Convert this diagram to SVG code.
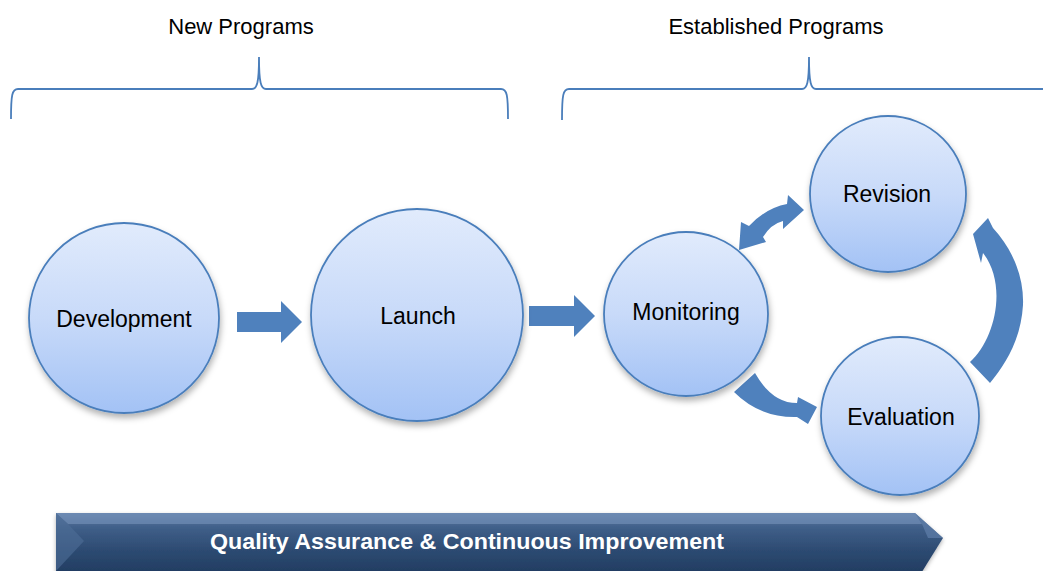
<svg xmlns="http://www.w3.org/2000/svg" width="1043" height="571" viewBox="0 0 1043 571">
  <defs>
    <linearGradient id="cg" x1="0" y1="0" x2="0" y2="1">
      <stop offset="0" stop-color="#e1ebfc"/>
      <stop offset="0.5" stop-color="#c8daf9"/>
      <stop offset="1" stop-color="#a3c2f5"/>
    </linearGradient>
    <linearGradient id="bg" x1="0" y1="0" x2="0" y2="1">
      <stop offset="0" stop-color="#5b7aa3"/>
      <stop offset="0.25" stop-color="#3f5e88"/>
      <stop offset="0.6" stop-color="#2d4b72"/>
      <stop offset="1" stop-color="#213b60"/>
    </linearGradient>
    <filter id="sh" x="-20%" y="-20%" width="140%" height="150%">
      <feDropShadow dx="1" dy="4" stdDeviation="3" flood-color="#000" flood-opacity="0.3"/>
    </filter>
    <filter id="bsh" x="-5%" y="-30%" width="110%" height="160%">
      <feDropShadow dx="0" dy="2" stdDeviation="2" flood-color="#000" flood-opacity="0.3"/>
    </filter>
  </defs>
  <style>
    .hdr { font-family: "Liberation Sans", Arial, sans-serif; font-size: 22px; fill: #000; text-anchor: middle; }
    .brace { fill: none; stroke: #4a7ebb; stroke-width: 1.8; }
    .node circle { fill: url(#cg); stroke: #4a7ebb; stroke-width: 1.8; filter: url(#sh); }
    .node text { font-family: "Liberation Sans", Arial, sans-serif; font-size: 23px; fill: #000; text-anchor: middle; }
    .arr { fill: #4f81bd; }
    .bar-text { font-family: "Liberation Sans", Arial, sans-serif; font-size: 22px; font-weight: bold; fill: #fff; text-anchor: middle; }
  </style>

  <text class="hdr" x="241" y="34">New Programs</text>
  <text class="hdr" x="776" y="34">Established Programs</text>

  <path class="brace" d="M11,119 C11,95 12,89 18,89 L252,89 C257,89 259,83 259,57 C259,83 261,89 266,89 L501,89 C507,89 508,95 508,119"/>
  <path class="brace" d="M562,120 C562,95 563,89 569,89 L802,89 C807,89 809,83 809,57 C809,83 811,89 816,89 L1043,89"/>

  <g id="connectors">
    <polygon class="arr" points="237,312 281,312 281,301 302,322 281,343 281,332 237,332"/>
    <polygon class="arr" points="529,306 574,306 574,295 595,316 574,337 574,326 529,326"/>
    <path class="arr" d="M739,250 L741,222 L749,226 Q766,208 787,204 L788,195 L804,210 L783,229 L783,221 Q771,224 763,237 L766,242 Z"/>
    <path class="arr" d="M734,392 Q760,418 797,417 L808,424 L817,407 L798,397 L797,403 Q772,403 755,373 Z"/>
    <path class="arr" d="M970,362 C995,340 1008,285 983,253 L981,263 L973,234 L988,218 L993,228 C1015,252 1024,280 1023,305 C1021,340 1005,365 990,383 Z"/>
  </g>

  <g id="development" class="node">
    <circle cx="124" cy="318" r="95"/>
    <text x="124" y="327">Development</text>
  </g>
  <g id="launch" class="node">
    <circle cx="417" cy="315" r="106"/>
    <text x="418" y="324">Launch</text>
  </g>
  <g id="monitoring" class="node">
    <circle cx="686" cy="314" r="82"/>
    <text x="686" y="320">Monitoring</text>
  </g>
  <g id="revision" class="node">
    <circle cx="888" cy="194" r="78"/>
    <text x="887" y="202">Revision</text>
  </g>
  <g id="evaluation" class="node">
    <circle cx="900" cy="416" r="79"/>
    <text x="901" y="425">Evaluation</text>
  </g>

  <g id="qa-bar">
    <polygon points="56,513 915,513 943,538 920,575 56,575" fill="url(#bg)" filter="url(#bsh)"/>
    <polygon points="56,513 915,513 922,524 68,524" fill="#7c98bf" opacity="0.55"/>
    <polygon points="56,513 68,524 84,541 56,571" fill="#4f6e98" opacity="0.6"/>
    <polygon points="915,513 943,538 928,538 922,524" fill="#5f7fa9" opacity="0.7"/>
    <text class="bar-text" x="467" y="549" textLength="514" lengthAdjust="spacingAndGlyphs">Quality Assurance &amp; Continuous Improvement</text>
  </g>
</svg>
